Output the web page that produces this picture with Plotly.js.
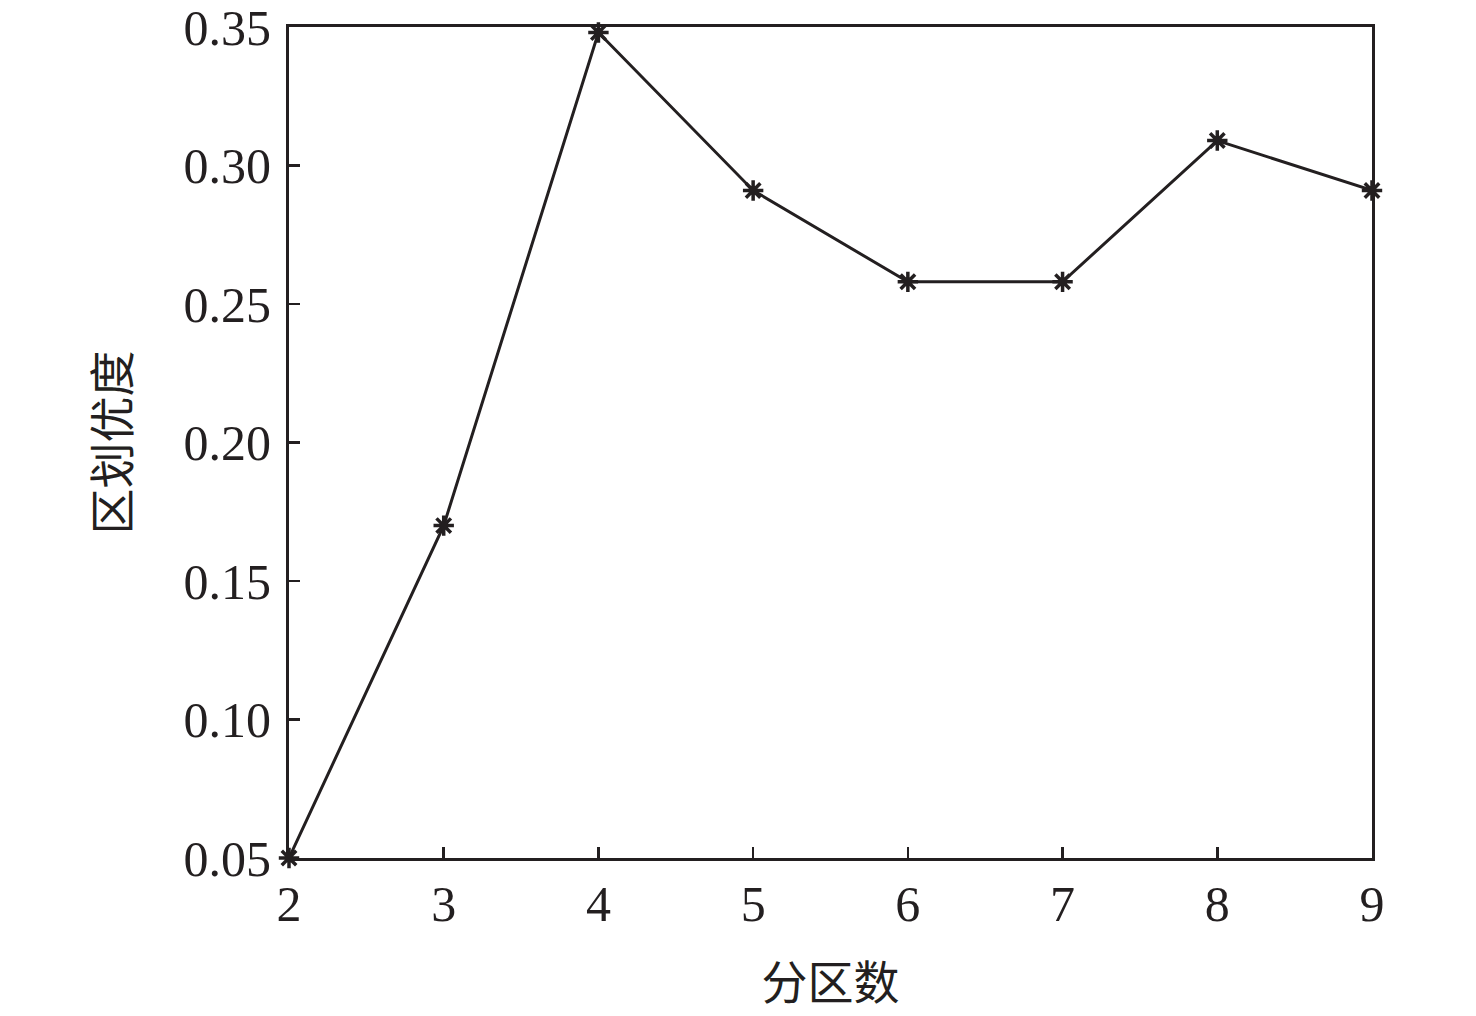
<!DOCTYPE html>
<html>
<head>
<meta charset="utf-8">
<script src="https://cdn.plot.ly/plotly-3.0.1.min.js"></script>
<style>html,body{margin:0;padding:0;background:#fff;}#chart{width:1476px;height:1016px;}</style>
</head>
<body>
<div id="chart"></div>
<script>
const partitions = [2, 3, 4, 5, 6, 7, 8, 9];
const optimality = [0.050, 0.170, 0.348, 0.291, 0.258, 0.258, 0.309, 0.291];
const xTitle = "分区数";
const yTitle = "区划优度";
const yTicks = [0.05, 0.10, 0.15, 0.20, 0.25, 0.30, 0.35];

const fontFam = "'Liberation Serif', 'Times New Roman', 'Noto Sans CJK SC', serif";
const cjkFam = "'Noto Sans CJK SC', serif";
const trace = {
  x: partitions, y: optimality, type: "scatter", mode: "lines+markers",
  line: {color: "#231f20", width: 3},
  marker: {symbol: "asterisk-open", size: 17, color: "#231f20", line: {color: "#231f20", width: 3.5}},
  cliponaxis: false
};
const layout = {
  width: 1476, height: 1016,
  margin: {l: 289, r: 104, t: 27, b: 158},
  paper_bgcolor: "#fff", plot_bgcolor: "#fff",
  showlegend: false,
  font: {family: fontFam, color: "#231f20", size: 50},
  xaxis: {
    range: [2, 9], tickvals: partitions, ticktext: partitions.map(String),
    ticks: "inside", ticklen: 11, tickwidth: 2.5, tickcolor: "#231f20",
    showline: true, linecolor: "#231f20", linewidth: 3, mirror: true,
    showgrid: false, zeroline: false, ticklabeloverflow: "allow",
    tickfont: {size: 50, family: fontFam},
    title: {text: xTitle, font: {size: 46, family: cjkFam}, standoff: 36}
  },
  yaxis: {
    range: [0.05, 0.35], tickvals: yTicks, ticktext: yTicks.map(v => v.toFixed(2)),
    ticks: "inside", ticklen: 11, tickwidth: 2.5, tickcolor: "#231f20",
    showline: true, linecolor: "#231f20", linewidth: 3, mirror: true,
    showgrid: false, zeroline: false, ticklabeloverflow: "allow", ticklabelstandoff: 5,
    tickfont: {size: 50, family: fontFam},
    title: {text: yTitle, font: {size: 46, family: cjkFam}, standoff: 40}
  }
};
Plotly.newPlot("chart", [trace], layout, {displayModeBar: false, staticPlot: true});
</script>
</body>
</html>
